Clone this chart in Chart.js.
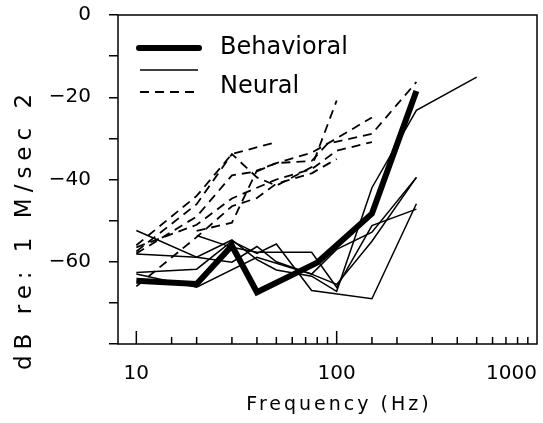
<!DOCTYPE html>
<html>
<head>
<meta charset="utf-8">
<script src="https://cdn.jsdelivr.net/npm/chart.js@4"></script>
<style>
  html, body { margin: 0; padding: 0; background: #fff; }
  #wrap { width: 543px; height: 423px; }
</style>
</head>
<body>
<div id="wrap"><canvas id="chart" width="543" height="423"></canvas></div>
<script>
// values: frequency in Hz, level in dB re 1 m/sec^2
var behavioralHz = [10, 20, 30, 40, 80, 100, 150, 250];
var behavioralDb = [-64.6, -65.4, -56.1, -67.4, -60.2, -56, -48.3, -18.5];

var neuralSolidHz = [
    [10, 20, 30, 40, 50, 75, 100, 150, 250, 500],
    [10, 20, 30, 40, 50, 75, 100, 150, 250],
    [10, 20, 30, 40, 50, 75, 150, 250],
    [20, 30, 40, 75, 100, 150, 250],
    [10, 20, 40, 75, 100, 150, 250]
];
var neuralSolidDb = [
    [-52.4, -58.9, -54.7, -59.5, -62, -63.5, -67.2, -42, -23.2, -15.1],
    [-58.1, -58.9, -60.1, -56.3, -60, -63, -65.5, -55, -39.5],
    [-62.6, -61.8, -55, -58, -55.7, -67, -69, -45.9],
    [-53.6, -56.5, -57.7, -57.7, -66.2, -51.2, -47.2],
    [-63, -66.2, -58.9, -63, -57, -52.8, -39.5]
];

var neuralDashedHz = [
    [10, 20, 30, 50],
    [10, 20, 30, 40, 50, 75, 100],
    [10, 20, 30, 40, 50, 75, 100, 150],
    [10, 20, 30, 40, 50, 75, 100, 150],
    [20, 30, 40, 50, 75, 90, 150, 250],
    [10, 20, 30, 40, 50, 75, 100]
];
var neuralDashedDb = [
    [-56, -44, -33.8, -30.9],
    [-57.5, -46, -33.8, -39.5, -41.5, -37, -20.8],
    [-58, -49, -39, -38, -36, -33.5, -30, -24.9],
    [-56.5, -51, -44.6, -42, -40, -37.5, -33, -30.9],
    [-52.5, -50.5, -37.8, -36, -35.5, -31.3, -28.9, -16.3],
    [-66, -54, -46.5, -44.5, -41, -38.5, -35]
];

var xLabels = [10, 100, 1000];
var yLabels = [0, -20, -40, -60];

function toPoints(hz, db) {
    return hz.map(function(f, i) { return { x: f, y: db[i] }; });
}

var datasets = [];
neuralDashedHz.forEach(function(hz, i) {
    datasets.push({
        data: toPoints(hz, neuralDashedDb[i]),
        borderColor: '#000',
        borderWidth: 1.8,
        borderDash: [9, 6]
    });
});
neuralSolidHz.forEach(function(hz, i) {
    datasets.push({
        data: toPoints(hz, neuralSolidDb[i]),
        borderColor: '#000',
        borderWidth: 1.5
    });
});
datasets.push({
    data: toPoints(behavioralHz, behavioralDb),
    borderColor: '#000',
    borderWidth: 6,
    borderJoinStyle: 'miter'
});

// frame, inward x ticks, legend and axis titles
var framePlugin = {
    id: 'frame',
    afterDraw: function(chart) {
        var ctx = chart.ctx;
        var a = chart.chartArea;
        var xs = chart.scales.x;
        ctx.save();
        ctx.strokeStyle = '#000';
        ctx.fillStyle = '#000';
        ctx.lineWidth = 1.5;
        ctx.strokeRect(a.left, a.top, a.right - a.left, a.bottom - a.top);

        xs.ticks.forEach(function(t) {
            if (t.value < 10 || t.value >= 1000) return;
            var px = xs.getPixelForValue(t.value);
            var lg = Math.log10(t.value);
            var len = Math.abs(lg - Math.round(lg)) < 1e-6 ? 13 : 7;
            ctx.beginPath();
            ctx.moveTo(px, a.bottom);
            ctx.lineTo(px, a.bottom - len);
            ctx.stroke();
        });

        // legend
        ctx.lineCap = 'round';
        ctx.lineWidth = 6;
        ctx.beginPath(); ctx.moveTo(139, 48); ctx.lineTo(199, 48); ctx.stroke();
        ctx.lineCap = 'butt';
        ctx.lineWidth = 1.5;
        ctx.beginPath(); ctx.moveTo(140, 70); ctx.lineTo(198, 70); ctx.stroke();
        ctx.lineWidth = 1.8;
        ctx.setLineDash([9, 6]);
        ctx.beginPath(); ctx.moveTo(140, 92); ctx.lineTo(198, 92); ctx.stroke();
        ctx.setLineDash([]);

        ctx.font = '24px "DejaVu Sans"';
        ctx.textAlign = 'left';
        ctx.textBaseline = 'middle';
        ctx.fillText('Behavioral', 220, 48);
        ctx.fillText('Neural', 220, 87);

        // axis titles
        ctx.font = '19px "DejaVu Sans"';
        ctx.letterSpacing = '3px';
        ctx.textAlign = 'center';
        ctx.fillText('Frequency (Hz)', 339, 405);

        ctx.translate(25, 370);
        ctx.rotate(-Math.PI / 2);
        ctx.textAlign = 'left';
        ctx.font = '23px "DejaVu Sans"';
        ctx.letterSpacing = '6px';
        ctx.fillText('dB re: 1 M/sec 2', 0, 0);
        ctx.restore();
    }
};

var ctx = document.getElementById('chart').getContext('2d');
var myChart = new Chart(ctx, {
    type: 'line',
    data: { datasets: datasets },
    plugins: [framePlugin],
    options: {
        responsive: false,
        animation: false,
        devicePixelRatio: 1,
        layout: { padding: { top: 15, right: 6, left: 0, bottom: 0 } },
        elements: {
            point: { radius: 0 },
            line: { tension: 0, fill: false }
        },
        plugins: {
            legend: { display: false },
            tooltip: { enabled: false }
        },
        scales: {
            x: {
                type: 'logarithmic',
                position: 'bottom',
                min: 8.1,
                max: 1000,
                grid: { display: false, drawTicks: false },
                border: { display: false },
                ticks: {
                    autoSkip: false,
                    maxRotation: 0,
                    align: 'inner',
                    padding: 18,
                    color: '#000',
                    font: { family: 'DejaVu Sans', size: 20 },
                    callback: function(v) {
                        return xLabels.indexOf(v) >= 0 ? String(v) : '';
                    }
                },
                afterFit: function(s) {
                    s.height = 79;
                    s.paddingLeft = 0;
                    s.paddingRight = 0;
                }
            },
            y: {
                min: -80,
                max: 0,
                grid: {
                    drawOnChartArea: false,
                    drawTicks: true,
                    tickLength: 9,
                    color: '#000',
                    lineWidth: 1.5
                },
                border: { display: false },
                ticks: {
                    stepSize: 10,
                    padding: 18,
                    color: '#000',
                    font: { family: 'DejaVu Sans', size: 20 },
                    callback: function(v) {
                        if (yLabels.indexOf(v) < 0) return '';
                        return v < 0 ? '\u2212' + Math.abs(v) : String(v);
                    }
                },
                afterFit: function(s) {
                    s.width = 118;
                    s.paddingTop = 0;
                    s.paddingBottom = 0;
                }
            }
        }
    }
});
</script>
</body>
</html>
